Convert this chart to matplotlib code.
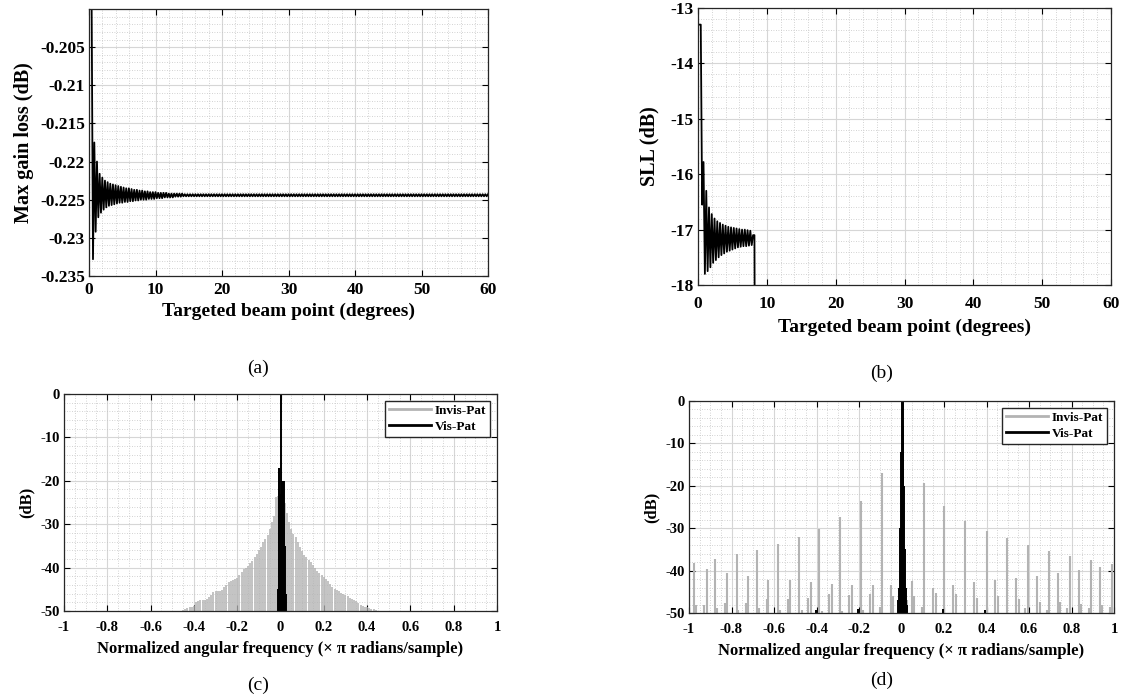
import numpy as np
import matplotlib
matplotlib.use('Agg')
from matplotlib import pyplot as plt
from matplotlib.lines import Line2D
from matplotlib.ticker import MultipleLocator, FuncFormatter

plt.rcParams['font.family'] = ['Liberation Serif', 'DejaVu Serif']
plt.rcParams['axes.unicode_minus'] = False

# (a) max gain loss vs targeted beam point, sampled every 0.2 deg
gain_head = [-0.2000, -0.2000, -0.2000, -0.2328, -0.2175, -0.2292, -0.2200, -0.2273,
             -0.2216, -0.2267, -0.2221, -0.2263, -0.2225, -0.2260, -0.2227, -0.2258,
             -0.2229, -0.2257, -0.2230, -0.2256, -0.2231, -0.2255, -0.2232, -0.2254,
             -0.2233, -0.2254, -0.2234, -0.2253, -0.2235, -0.2253, -0.2235, -0.2252,
             -0.2236, -0.2252, -0.2237, -0.2251, -0.2237, -0.2251, -0.2238, -0.2250,
             -0.2238, -0.2250, -0.2239, -0.2250, -0.2239, -0.2249, -0.2240, -0.2249,
             -0.2240, -0.2249, -0.2240, -0.2248, -0.2241, -0.2248, -0.2241, -0.2248,
             -0.2241, -0.2247, -0.2241, -0.2247, -0.2242, -0.2247, -0.2242, -0.2247,
             -0.2242, -0.2246, -0.2242, -0.2246, -0.2242, -0.2246, -0.2242]
gain_tail = [-0.22455, -0.22428] * ((301 - len(gain_head)) // 2)
gain_db = np.array(gain_head + gain_tail)
gain_deg = np.round(np.arange(len(gain_db)) * 0.2, 1)

# (b) side lobe level vs targeted beam point
sll_deg = [0.0, 0.2, 0.4, 0.6, 0.8, 1.0, 1.2, 1.4, 1.6, 1.8, 2.0, 2.2, 2.4, 2.6, 2.8,
           3.0, 3.2, 3.4, 3.6, 3.8, 4.0, 4.2, 4.4, 4.6, 4.8, 5.0, 5.2, 5.4, 5.6, 5.8,
           6.0, 6.2, 6.4, 6.6, 6.8, 7.0, 7.2, 7.4, 7.6, 7.8, 8.0, 8.2, 8.25]
sll_db = [-13.3, -13.3, -13.3, -16.55, -15.78, -17.80, -16.30, -17.75, -16.60, -17.68,
          -16.72, -17.60, -16.80, -17.55, -16.85, -17.50, -16.88, -17.46, -16.91, -17.43,
          -16.93, -17.40, -16.95, -17.38, -16.96, -17.36, -16.97, -17.34, -16.98, -17.32,
          -16.99, -17.31, -17.00, -17.30, -17.00, -17.30, -17.01, -17.29, -17.02, -17.28,
          -17.10, -17.10, -19.0]

# (c) spectra
c_inv_x = np.round(np.arange(-0.45, 0.4501, 0.01), 2)
c_inv_db = [-49.8, -49.5, -49.2, -49.0, -49.0, -48.8, -48.0, -47.6, -47.5, -47.5,
            -47.4, -47.3, -46.8, -46.2, -45.6, -45.5, -45.4, -45.4, -45.2, -44.5,
            -44.0, -43.4, -43.0, -42.8, -42.6, -42.4, -41.8, -41.0, -40.4, -40.0,
            -39.6, -39.0, -38.4, -37.6, -36.8, -36.0, -35.2, -34.2, -33.4, -32.4,
            -31.2, -29.6, -28.0, -23.8, -23.5, -24.0, -24.5, -25.0, -27.5, -29.5,
            -31.0, -32.2, -33.0, -34.0, -35.2, -36.2, -37.0, -37.6, -38.2, -38.6,
            -39.4, -40.2, -40.8, -41.2, -41.8, -42.2, -42.6, -43.2, -43.8, -44.4,
            -45.0, -45.2, -45.5, -45.8, -46.0, -46.4, -46.6, -47.0, -47.2, -47.4,
            -47.8, -48.2, -48.6, -48.8, -49.0, -49.0, -49.2, -49.5, -49.6, -49.8, -50.0]
c_vis_x = [-0.012, -0.009, -0.006, -0.003, 0.0, 0.003, 0.006, 0.009, 0.012, 0.015,
           0.018, 0.021, 0.024]
c_vis_db = [-45, -17, -17, -24, 0, -23, -21, -20, -20, -20, -28, -35, -46]

# (d) spectra
d_inv_x = [-0.975, -0.878, -0.776, -0.681, -0.583, -0.482, -0.387, -0.289, -0.192, -0.093,
           0.104, 0.202, 0.301, 0.400, 0.498, 0.597, 0.695, 0.794, 0.892, 0.990,
           -0.917, -0.820, -0.721, -0.627, -0.525, -0.427, -0.328, -0.234, -0.136, -0.051,
           0.048, 0.146, 0.244, 0.342, 0.441, 0.539, 0.637, 0.736, 0.834, 0.934,
           -0.965, -0.930, -0.870, -0.830, -0.770, -0.730, -0.670, -0.635, -0.570, -0.535,
           -0.470, -0.440, -0.375, -0.340, -0.280, -0.245, -0.180, -0.150, -0.100, -0.040,
           0.025, 0.061, 0.096, 0.162, 0.257, 0.355, 0.452, 0.551, 0.583, 0.650,
           0.684, 0.747, 0.778, 0.846, 0.880, 0.944, 0.980]
d_inv_db = [-38.2, -37.3, -36.1, -35.1, -33.7, -32.0, -30.2, -27.4, -23.7, -17.0,
            -19.3, -24.8, -28.2, -30.6, -32.4, -34.0, -35.4, -36.5, -37.6, -38.4,
            -39.6, -40.5, -41.3, -42.1, -42.3, -42.6, -43.2, -43.3, -43.3, -43.5,
            -42.4, -44.0, -43.3, -42.6, -42.2, -41.8, -41.2, -40.6, -39.8, -39.1,
            -48.0, -48.0, -48.8, -47.6, -49.2, -47.6, -48.8, -46.8, -49.2, -46.7,
            -49.4, -46.4, -49.5, -45.6, -49.5, -45.8, -49.3, -45.6, -48.5, -46.0,
            -46.9, -46.1, -48.5, -45.3, -45.5, -46.5, -46.1, -46.7, -48.8, -47.3,
            -49.2, -47.3, -48.8, -47.8, -48.8, -48.2, -48.5]
d_vis_x = [-0.404, -0.206, -0.015, -0.010, -0.006, -0.002, 0.002, 0.005, 0.008, 0.012,
           0.016, 0.020, 0.025, 0.196, 0.393]
d_vis_db = [-49.3, -49.0, -47, -44, -30, -12, -0.3, 0, -6, -20, -35, -44, -48, -49.0, -49.3]

freq_ticks = [-1, -0.8, -0.6, -0.4, -0.2, 0, 0.2, 0.4, 0.6, 0.8, 1]

W, H = 1123, 700
GRAY = '#b3b3b3'


def box(l, t, r, b):
    return [l / W, 1 - b / H, (r - l) / W, (b - t) / H]


def style(ax, fs, xpad=3):
    ax.set_axisbelow(True)
    ax.grid(which='major', color='#d6d6d6', lw=0.8)
    ax.grid(which='minor', color='#c4c4c4', ls=(0, (1, 2)), lw=0.6)
    ax.tick_params(which='major', direction='in', top=True, right=True, length=4,
                   width=0.8, labelsize=fs, pad=3)
    ax.tick_params(axis='x', pad=xpad)
    ax.tick_params(which='minor', length=0)
    for s in ax.spines.values():
        s.set_color('#262626')
        s.set_linewidth(0.9)
    for lab in ax.get_xticklabels() + ax.get_yticklabels():
        lab.set_fontweight('bold')


def add_legend(ax, handles):
    ax.legend(handles, ['Invis-Pat', 'Vis-Pat'], loc='upper right', fancybox=False,
              edgecolor='#262626', framealpha=1, prop={'weight': 'bold', 'size': 9.5},
              handlelength=3.2, borderpad=0.3, labelspacing=0.3, handletextpad=0.3)


fmt = FuncFormatter(lambda v, p: '%g' % round(v, 4))
freq_label = 'Normalized angular frequency (\u00d7 \u03c0 radians/sample)'

fig = plt.figure(figsize=(W / 100, H / 100), dpi=100)

# (a)
ax = fig.add_axes(box(89, 9, 488, 276))
ax.plot(gain_deg, gain_db, color='black', lw=1.3)
ax.set_xlim(0, 60)
ax.set_ylim(-0.235, -0.2)
ax.set_yticks([-0.235, -0.23, -0.225, -0.22, -0.215, -0.21, -0.205])
ax.xaxis.set_minor_locator(MultipleLocator(2))
ax.yaxis.set_minor_locator(MultipleLocator(0.001))
ax.xaxis.set_major_formatter(fmt)
ax.yaxis.set_major_formatter(fmt)
style(ax, 12.5, xpad=4)
ax.set_xlabel('Targeted beam point (degrees)', fontsize=14, fontweight='bold', labelpad=4)
ax.set_ylabel('Max gain loss (dB)', fontsize=14.5, fontweight='bold', labelpad=4)

# (b)
ax = fig.add_axes(box(698, 8, 1111, 285))
ax.plot(sll_deg, sll_db, color='black', lw=1.3)
ax.set_xlim(0, 60)
ax.set_ylim(-18, -13)
ax.xaxis.set_minor_locator(MultipleLocator(2))
ax.yaxis.set_minor_locator(MultipleLocator(0.2))
ax.xaxis.set_major_formatter(fmt)
ax.yaxis.set_major_formatter(fmt)
style(ax, 12.5, xpad=8)
ax.set_xlabel('Targeted beam point (degrees)', fontsize=14, fontweight='bold', labelpad=5)
ax.set_ylabel('SLL (dB)', fontsize=14.5, fontweight='bold', labelpad=8)

handles = [Line2D([], [], color=GRAY, lw=2), Line2D([], [], color='black', lw=2)]

# (c)
ax = fig.add_axes(box(64, 394, 497, 611))
ax.vlines(c_inv_x, -50, c_inv_db, color=GRAY, lw=1.1)
ax.vlines(c_vis_x, -50, c_vis_db, color='black', lw=1.4)
ax.set_xlim(-1, 1)
ax.set_ylim(-50, 0)
ax.set_xticks(freq_ticks)
ax.xaxis.set_minor_locator(MultipleLocator(0.05))
ax.yaxis.set_minor_locator(MultipleLocator(2))
ax.xaxis.set_major_formatter(fmt)
ax.yaxis.set_major_formatter(fmt)
style(ax, 10.5, xpad=7)
ax.set_xlabel(freq_label, fontsize=12, fontweight='bold', labelpad=5)
ax.set_ylabel('(dB)', fontsize=12, fontweight='bold', labelpad=4)
add_legend(ax, handles)

# (d)
ax = fig.add_axes(box(689, 401, 1114, 613))
ax.vlines(d_inv_x, -50, d_inv_db, color=GRAY, lw=1.5)
ax.vlines(d_vis_x, -50, d_vis_db, color='black', lw=1.4)
ax.set_xlim(-1, 1)
ax.set_ylim(-50, 0)
ax.set_xticks(freq_ticks)
ax.xaxis.set_minor_locator(MultipleLocator(0.05))
ax.yaxis.set_minor_locator(MultipleLocator(2))
ax.xaxis.set_major_formatter(fmt)
ax.yaxis.set_major_formatter(fmt)
style(ax, 10.5, xpad=7)
ax.set_xlabel(freq_label, fontsize=12, fontweight='bold', labelpad=5)
ax.set_ylabel('(dB)', fontsize=12, fontweight='bold', labelpad=4)
add_legend(ax, handles)

# panel captions
for txt, x, y in [('(a)', 258, 368), ('(b)', 882, 373), ('(c)', 258, 685), ('(d)', 882, 680)]:
    fig.text(x / W, 1 - y / H, txt, ha='center', va='center', fontsize=14)

fig.savefig('out.png', dpi=100)
